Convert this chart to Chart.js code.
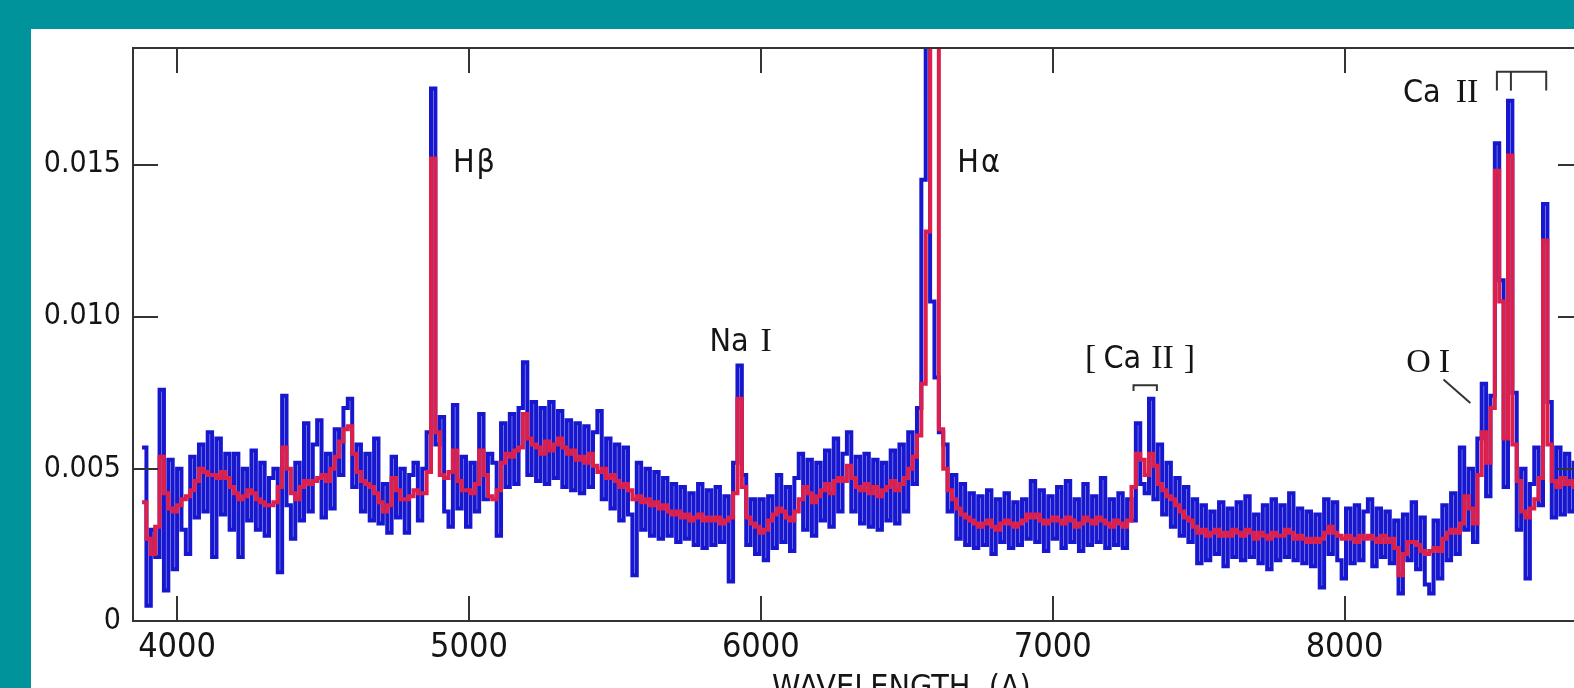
<!DOCTYPE html>
<html>
<head>
<meta charset="utf-8">
<script src="https://cdn.jsdelivr.net/npm/chart.js@4.4.0/dist/chart.umd.min.js"></script>
<style>
html, body { margin: 0; padding: 0; background: #00939b; overflow: hidden; }
#caixa { position: absolute; left: 0; top: 0; width: 1620px; height: 688px; }
</style>
</head>
<body>
<div id="caixa"><canvas id="espectro" width="1620" height="688"></canvas></div>
<script>
// grade de comprimento de onda (Angstrom) - um valor a cada 15 A
const inicioLambda = 3880;
const passoLambda = 15;

// fluxo suavizado (linha vermelha)
const fluxoSuave = [
  0.0039, 0.0027, 0.0022, 0.0031, 0.0054, 0.0042, 0.0037, 0.0036, 0.0038, 0.0040,
  0.0041, 0.0043, 0.0046, 0.0050, 0.0049, 0.0048, 0.0048, 0.0047, 0.0049, 0.0047,
  0.0044, 0.0042, 0.0040, 0.0041, 0.0043, 0.0042, 0.0040, 0.0039, 0.0038, 0.0038,
  0.0039, 0.0044, 0.0057, 0.0050, 0.0042, 0.0040, 0.0044, 0.0046, 0.0045, 0.0046,
  0.0047, 0.0048, 0.0046, 0.0050, 0.0054, 0.0059, 0.0063, 0.0064, 0.0055, 0.0049,
  0.0046, 0.0045, 0.0044, 0.0042, 0.0039, 0.0036, 0.0038, 0.0047, 0.0043, 0.0040,
  0.0040, 0.0041, 0.0043, 0.0042, 0.0042, 0.0049, 0.0152, 0.0062, 0.0048, 0.0047,
  0.0049, 0.0056, 0.0046, 0.0043, 0.0043, 0.0042, 0.0045, 0.0056, 0.0048, 0.0041,
  0.0040, 0.0043, 0.0052, 0.0055, 0.0054, 0.0056, 0.0057, 0.0068, 0.0060, 0.0058,
  0.0057, 0.0055, 0.0059, 0.0056, 0.0058, 0.0060, 0.0057, 0.0055, 0.0056, 0.0053,
  0.0054, 0.0052, 0.0055, 0.0051, 0.0049, 0.0050, 0.0047, 0.0048, 0.0046, 0.0044,
  0.0045, 0.0043, 0.0040, 0.0041, 0.0039, 0.0040, 0.0038, 0.0039, 0.0037, 0.0038,
  0.0036, 0.0035, 0.0036, 0.0034, 0.0035, 0.0033, 0.0034, 0.0035, 0.0033, 0.0034,
  0.0033, 0.0034, 0.0032, 0.0033, 0.0034, 0.0042, 0.0073, 0.0044, 0.0034, 0.0032,
  0.0031, 0.0029, 0.0030, 0.0033, 0.0035, 0.0037, 0.0036, 0.0034, 0.0033, 0.0036,
  0.0040, 0.0044, 0.0042, 0.0039, 0.0041, 0.0043, 0.0045, 0.0042, 0.0046, 0.0047,
  0.0046, 0.0051, 0.0047, 0.0044, 0.0043, 0.0045, 0.0042, 0.0044, 0.0041, 0.0043,
  0.0044, 0.0046, 0.0043, 0.0045, 0.0047, 0.0050, 0.0054, 0.0061, 0.0078, 0.0128,
  0.0250, 0.0250, 0.0063, 0.0050, 0.0043, 0.0040, 0.0037, 0.0035, 0.0034, 0.0033,
  0.0032, 0.0031, 0.0032, 0.0033, 0.0031, 0.0030, 0.0032, 0.0033, 0.0032, 0.0031,
  0.0032, 0.0033, 0.0035, 0.0034, 0.0035, 0.0033, 0.0032, 0.0033, 0.0034, 0.0033,
  0.0032, 0.0034, 0.0033, 0.0031, 0.0032, 0.0034, 0.0033, 0.0032, 0.0034, 0.0033,
  0.0032, 0.0031, 0.0033, 0.0032, 0.0031, 0.0033, 0.0044, 0.0055, 0.0053, 0.0048,
  0.0055, 0.0051, 0.0045, 0.0043, 0.0041, 0.0040, 0.0038, 0.0036, 0.0034, 0.0033,
  0.0031, 0.0029, 0.0030, 0.0028, 0.0029, 0.0030, 0.0028, 0.0029, 0.0028, 0.0030,
  0.0029, 0.0028, 0.0030, 0.0029, 0.0027, 0.0029, 0.0028, 0.0027, 0.0029, 0.0028,
  0.0028, 0.0030, 0.0029, 0.0027, 0.0028, 0.0027, 0.0026, 0.0027, 0.0026, 0.0027,
  0.0029, 0.0031, 0.0029, 0.0028, 0.0027, 0.0028, 0.0027, 0.0026, 0.0028, 0.0027,
  0.0028, 0.0027, 0.0026, 0.0028, 0.0026, 0.0027, 0.0024, 0.0015, 0.0022, 0.0026,
  0.0026, 0.0025, 0.0023, 0.0022, 0.0023, 0.0024, 0.0023, 0.0027, 0.0029, 0.0030,
  0.0029, 0.0032, 0.0041, 0.0037, 0.0032, 0.0048, 0.0062, 0.0052, 0.0070, 0.0148,
  0.0105, 0.0060, 0.0153, 0.0058, 0.0046, 0.0036, 0.0034, 0.0037, 0.0040, 0.0047,
  0.0125, 0.0058, 0.0046, 0.0044, 0.0047, 0.0045, 0.0046, 0.0044, 0.0045, 0.0046
];

// fluxo observado com ruido (linha azul)
const fluxoBruto = [
  0.0057, 0.0005, 0.0030, 0.0021, 0.0076, 0.0010, 0.0053, 0.0017, 0.0050, 0.0030,
  0.0022, 0.0054, 0.0034, 0.0058, 0.0036, 0.0062, 0.0021, 0.0060, 0.0035, 0.0055,
  0.0030, 0.0055, 0.0021, 0.0050, 0.0033, 0.0056, 0.0030, 0.0052, 0.0028, 0.0047,
  0.0050, 0.0016, 0.0074, 0.0038, 0.0027, 0.0052, 0.0033, 0.0065, 0.0036, 0.0058,
  0.0066, 0.0034, 0.0055, 0.0037, 0.0063, 0.0048, 0.0070, 0.0073, 0.0044, 0.0058,
  0.0036, 0.0055, 0.0033, 0.0060, 0.0032, 0.0045, 0.0029, 0.0054, 0.0034, 0.0050,
  0.0029, 0.0048, 0.0052, 0.0033, 0.0050, 0.0062, 0.0175, 0.0058, 0.0067, 0.0036,
  0.0031, 0.0071, 0.0037, 0.0054, 0.0031, 0.0052, 0.0036, 0.0068, 0.0040, 0.0055,
  0.0052, 0.0028, 0.0065, 0.0044, 0.0068, 0.0045, 0.0070, 0.0085, 0.0048, 0.0072,
  0.0046, 0.0070, 0.0045, 0.0072, 0.0047, 0.0069, 0.0044, 0.0066, 0.0043, 0.0065,
  0.0042, 0.0064, 0.0044, 0.0062, 0.0069, 0.0040, 0.0060, 0.0037, 0.0058, 0.0033,
  0.0057, 0.0035, 0.0015, 0.0052, 0.0030, 0.0050, 0.0028, 0.0049, 0.0027, 0.0047,
  0.0028, 0.0045, 0.0026, 0.0044, 0.0027, 0.0042, 0.0025, 0.0045, 0.0024, 0.0043,
  0.0025, 0.0044, 0.0026, 0.0041, 0.0013, 0.0052, 0.0084, 0.0048, 0.0025, 0.0040,
  0.0022, 0.0040, 0.0020, 0.0041, 0.0024, 0.0048, 0.0026, 0.0044, 0.0023, 0.0047,
  0.0055, 0.0030, 0.0053, 0.0028, 0.0052, 0.0033, 0.0056, 0.0031, 0.0060, 0.0036,
  0.0055, 0.0062, 0.0036, 0.0054, 0.0032, 0.0055, 0.0031, 0.0053, 0.0030, 0.0052,
  0.0033, 0.0056, 0.0032, 0.0058, 0.0036, 0.0062, 0.0045, 0.0070, 0.0145, 0.0300,
  0.0105, 0.0080, 0.0062, 0.0058, 0.0036, 0.0048, 0.0027, 0.0045, 0.0025, 0.0042,
  0.0024, 0.0041, 0.0025, 0.0043, 0.0022, 0.0040, 0.0026, 0.0042, 0.0024, 0.0039,
  0.0025, 0.0040, 0.0027, 0.0046, 0.0026, 0.0043, 0.0023, 0.0041, 0.0027, 0.0044,
  0.0024, 0.0046, 0.0026, 0.0040, 0.0023, 0.0045, 0.0025, 0.0041, 0.0026, 0.0047,
  0.0024, 0.0040, 0.0025, 0.0042, 0.0024, 0.0040, 0.0033, 0.0065, 0.0045, 0.0042,
  0.0073, 0.0040, 0.0058, 0.0035, 0.0052, 0.0031, 0.0047, 0.0028, 0.0044, 0.0026,
  0.0040, 0.0019, 0.0038, 0.0020, 0.0036, 0.0022, 0.0039, 0.0018, 0.0037, 0.0021,
  0.0039, 0.0020, 0.0041, 0.0021, 0.0035, 0.0019, 0.0038, 0.0017, 0.0040, 0.0020,
  0.0038, 0.0021, 0.0042, 0.0020, 0.0037, 0.0019, 0.0036, 0.0018, 0.0035, 0.0011,
  0.0040, 0.0022, 0.0039, 0.0020, 0.0014, 0.0037, 0.0019, 0.0038, 0.0020, 0.0036,
  0.0040, 0.0018, 0.0037, 0.0021, 0.0036, 0.0019, 0.0033, 0.0009, 0.0035, 0.0020,
  0.0039, 0.0017, 0.0034, 0.0012, 0.0009, 0.0033, 0.0014, 0.0038, 0.0020, 0.0042,
  0.0022, 0.0057, 0.0030, 0.0050, 0.0026, 0.0060, 0.0078, 0.0041, 0.0074, 0.0157,
  0.0112, 0.0044, 0.0171, 0.0075, 0.0030, 0.0050, 0.0014, 0.0045, 0.0057, 0.0038,
  0.0137, 0.0072, 0.0034, 0.0057, 0.0035, 0.0055, 0.0036, 0.0052, 0.0038, 0.0050
];

const ticksX = [4000, 5000, 6000, 7000, 8000];
const ticksY = [0, 0.005, 0.010, 0.015];
const rotulosY = ['0', '0.005', '0.010', '0.015'];

const fonteSans = '"DejaVu Sans Condensed", "Liberation Sans", sans-serif';
const fonteSerif = '"Liberation Serif", "DejaVu Serif", serif';

// identificacao das linhas espectrais (lambda / fluxo da linha de base do texto)
const identificacoes = [
  { lambda: 4945, fluxo: 0.01476, partes: [['H', 's', 0], ['\u03b2', 's', 2]] },
  { lambda: 6673, fluxo: 0.01476, partes: [['H', 's', 0], ['\u03b1', 's', 2]] },
  { lambda: 5824, fluxo: 0.00888, partes: [['Na', 's', 0], ['I', 'r', 12]] },
  { lambda: 7111, fluxo: 0.00830, partes: [['[', 'r', 0], ['Ca', 's', 7], ['II', 'r', 10], [']', 'r', 10]] },
  { lambda: 8211, fluxo: 0.00819, partes: [['O', 'r', 0], ['I', 'r', 8]] },
  { lambda: 8200, fluxo: 0.01706, partes: [['Ca', 's', 0], ['II', 'r', 15]] }
];

const pontos = arr => arr.map((v, i) => ({ x: inicioLambda + i * passoLambda, y: v }));

function escreve(ctx, chart, item) {
  const sx = chart.scales.x, sy = chart.scales.y;
  let x = sx.getPixelForValue(item.lambda);
  const y = sy.getPixelForValue(item.fluxo);
  ctx.fillStyle = '#151515';
  ctx.textBaseline = 'alphabetic';
  ctx.textAlign = 'left';
  item.partes.forEach(([txt, tipo, gap]) => {
    ctx.font = tipo === 's' ? '32px ' + fonteSans : '34px ' + fonteSerif;
    x += gap;
    ctx.fillText(txt, x, y);
    x += ctx.measureText(txt).width;
  });
}

function linha(ctx, chart, pts) {
  const sx = chart.scales.x, sy = chart.scales.y;
  ctx.beginPath();
  pts.forEach(([l, f], i) => {
    const px = sx.getPixelForValue(l), py = sy.getPixelForValue(f);
    if (i === 0) ctx.moveTo(px, py); else ctx.lineTo(px, py);
  });
  ctx.stroke();
}

const moldura = {
  id: 'moldura',
  beforeDraw(chart) {
    const ctx = chart.ctx;
    ctx.save();
    ctx.fillStyle = '#00939b';
    ctx.fillRect(0, 0, chart.width, chart.height);
    ctx.fillStyle = '#ffffff';
    ctx.fillRect(31, 29, chart.width - 31, chart.height - 29);
    ctx.restore();
  },
  afterDatasetsDraw(chart) {
    const ctx = chart.ctx;
    const a = chart.chartArea;
    const sx = chart.scales.x, sy = chart.scales.y;
    ctx.save();
    ctx.strokeStyle = '#333333';
    ctx.lineWidth = 2;
    ctx.strokeRect(a.left, a.top, a.right - a.left, a.bottom - a.top);
    // marcas para dentro
    ctx.beginPath();
    ticksX.forEach(v => {
      const px = Math.round(sx.getPixelForValue(v));
      ctx.moveTo(px, a.bottom); ctx.lineTo(px, a.bottom - 25);
      ctx.moveTo(px, a.top); ctx.lineTo(px, a.top + 25);
    });
    ticksY.forEach(v => {
      if (v === 0) return;
      const py = Math.round(sy.getPixelForValue(v));
      ctx.moveTo(a.left, py); ctx.lineTo(a.left + 25, py);
      ctx.moveTo(a.right, py); ctx.lineTo(a.right - 25, py);
    });
    ctx.stroke();

    // colchetes e indicadores
    linha(ctx, chart, [[7277, 0.00756], [7277, 0.00775], [7357, 0.00775], [7357, 0.00756]]);
    linha(ctx, chart, [[8522, 0.01743], [8522, 0.01805], [8691, 0.01805], [8691, 0.01743]]);
    linha(ctx, chart, [[8570, 0.01805], [8570, 0.01743]]);
    linha(ctx, chart, [[8339, 0.00794], [8431, 0.00716]]);

    identificacoes.forEach(item => escreve(ctx, chart, item));

    // titulo do eixo x
    ctx.fillStyle = '#151515';
    ctx.font = '32px ' + fonteSans;
    ctx.textAlign = 'left';
    ctx.textBaseline = 'alphabetic';
    ctx.fillText('WAVELENGTH  (A)', 772, 697);
    ctx.restore();
  }
};

const ctx = document.getElementById('espectro').getContext('2d');
new Chart(ctx, {
  type: 'line',
  data: {
    datasets: [
      {
        label: 'Suavizado',
        data: pontos(fluxoSuave),
        borderColor: '#dc1f4b',
        borderWidth: 4,
        pointRadius: 0,
        stepped: true,
        fill: false,
        order: 1,
        clip: 0
      },
      {
        label: 'Observado',
        data: pontos(fluxoBruto),
        borderColor: '#1717d0',
        borderWidth: 4,
        pointRadius: 0,
        stepped: true,
        fill: false,
        order: 2,
        clip: 0
      }
    ]
  },
  options: {
    responsive: false,
    maintainAspectRatio: false,
    devicePixelRatio: 1,
    animation: false,
    events: [],
    layout: { padding: { left: 0, top: 48, right: 37, bottom: 0 } },
    plugins: { legend: { display: false }, tooltip: { enabled: false } },
    scales: {
      x: {
        type: 'linear',
        min: 3849,
        max: 8817,
        afterBuildTicks: s => { s.ticks = ticksX.map(v => ({ value: v })); },
        afterFit: s => { s.height = 67; },
        grid: { display: false, drawTicks: false },
        border: { display: false },
        ticks: {
          padding: 7,
          maxRotation: 0,
          autoSkip: false,
          color: '#151515',
          font: { family: fonteSans, size: 34 },
          callback: v => String(v)
        }
      },
      y: {
        type: 'linear',
        min: 0,
        max: 0.01883,
        afterBuildTicks: s => { s.ticks = ticksY.map(v => ({ value: v })); },
        afterFit: s => { s.width = 133; },
        grid: { display: false, drawTicks: false },
        border: { display: false },
        ticks: {
          padding: 12,
          autoSkip: false,
          color: '#151515',
          font: { family: fonteSans, size: 30 },
          callback: (v, i) => rotulosY[i]
        }
      }
    }
  },
  plugins: [moldura]
});
</script>
</body>
</html>
